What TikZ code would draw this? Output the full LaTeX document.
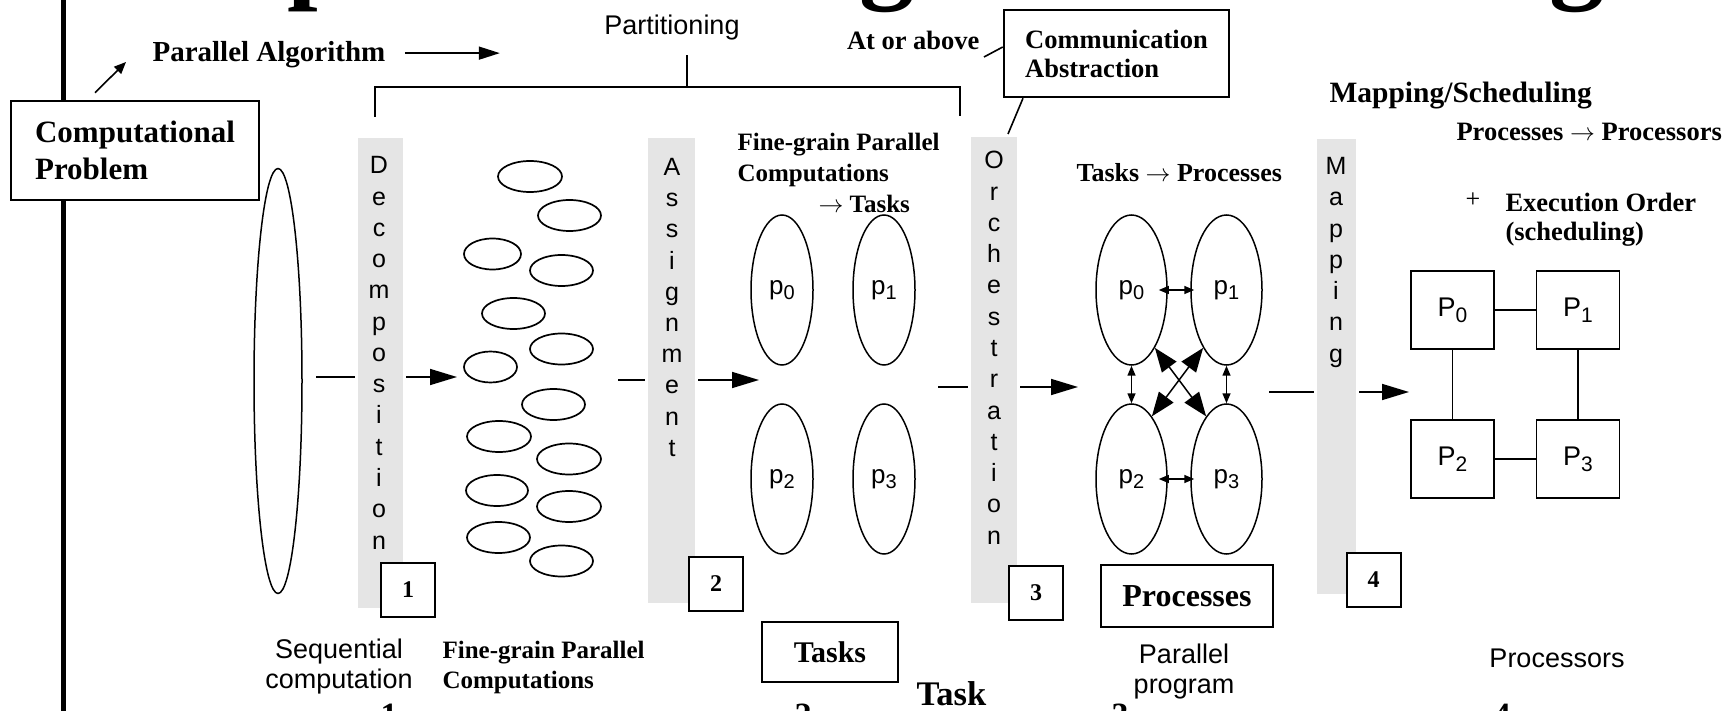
\documentclass[tikz,border=0pt]{standalone}
\usepackage{fontspec}
\setmainfont{Liberation Serif}
\setsansfont{Liberation Sans}
\usetikzlibrary{arrows.meta,shapes.geometric}
\definecolor{barfill}{gray}{0.9}
\newcommand{\fsz}[2]{\fontsize{#1}{#2}\selectfont}
\newcommand{\lowidx}[1]{\raisebox{-5pt}{\fsz{20}{20}#1}}

\begin{document}
\begin{tikzpicture}[x=1pt, y=-1pt,
    bar/.style={fill=barfill, draw=white, line width=3pt, inner sep=0pt},
    barletter/.style={anchor=base, font=\sffamily\fsz{25}{25}},
    numbox/.style={draw, fill=white, line width=2pt, minimum width=54pt, minimum height=54pt, inner sep=0pt, font=\bfseries\fsz{24}{24}},
    tbox/.style={draw, line width=2.5pt, inner sep=0pt},
    blob/.style={draw, ellipse, line width=1.7pt, inner sep=0pt, minimum height=31pt},
    task/.style={draw, ellipse, line width=1.5pt, inner sep=0pt, minimum width=62pt, minimum height=150pt, font=\sffamily\fsz{26}{26}},
    proc/.style={draw, line width=1.8pt, minimum width=83pt, minimum height=78pt, inner sep=0pt, font=\sffamily\fsz{27}{27}},
    wire/.style={line width=1.6pt},
    flow/.style={line width=1.7pt, -{Triangle[length=27pt,width=16pt]}},
    link/.style={line width=1.5pt, {Triangle[length=10pt,width=8pt]}-{Triangle[length=10pt,width=8pt]}},
    cross/.style={line width=1.5pt, {Triangle[length=24pt,width=18pt]}-{Triangle[length=24pt,width=18pt]}}]

  \useasboundingbox (0,0) rectangle (1733,711);

  % Titel (abgeschnitten)
  \node[anchor=base west, font=\bfseries\fsz{110}{110}] (tp) at (284,-11) {p};
  \node[anchor=base, font=\bfseries\fsz{110}{110}] (tg1) at (887,-11) {g};
  \node[anchor=base, font=\bfseries\fsz{110}{110}] (tg2) at (1577,-11) {g};

  % links
  \node[tbox, minimum width=248pt, minimum height=99pt, align=left, font=\bfseries\fsz{31}{37}] (cp) at (135,150.5) {Computational\\Problem};
  \coordinate (rim) at (63,0);
  \coordinate (rimb) at (63,711);
  \draw[line width=5pt] (rim) -- (rim |- cp.north);
  \draw[line width=5pt] (rim |- cp.south) -- (rimb);

  \node[anchor=base west, font=\bfseries\fsz{29}{29}] (palg) at (149,62) {Parallel Algorithm};
  \draw[line width=1.6pt, -{Triangle[length=12pt,width=10pt]}] ([xshift=-40pt,yshift=7pt]cp.north) -- ([xshift=-23pt]palg.base west);
  \draw[line width=1.6pt, -{Triangle[length=21pt,width=13pt]}] ([xshift=16pt,yshift=2pt]palg.east) -- ++(95,0);

  \node[anchor=base, font=\sffamily\fsz{27}{27}] (part) at (672,35) {Partitioning};
  \draw[wire] (375,117) |- (960,87) -- (960,116);
  \draw[wire] (687,87) -- (687,55);

  \node[anchor=base east, font=\bfseries\fsz{26.5}{26.5}] (above) at (983,50) {At or above};
  \node[tbox, minimum width=225pt, minimum height=87pt, align=left, font=\bfseries\fsz{26.5}{29}] (comm) at (1116.5,53.5) {Communication\\Abstraction};
  \draw[wire] ([xshift=1pt,yshift=-7pt]above.base east) -- ([yshift=6.5pt]comm.west);

  \node[anchor=north west, align=left, font=\bfseries\fsz{25}{31}] (fgpc) at (734,129.6) {Fine-grain Parallel\\Computations\\\hspace*{81pt}$\rightarrow$ Tasks};
  \node[anchor=base west, font=\bfseries\fsz{26}{26}] (t2p) at (1073,182) {Tasks $\rightarrow$ Processes};
  \node[anchor=base west, font=\bfseries\fsz{29.5}{29.5}] (msch) at (1326,103) {Mapping/Scheduling};
  \node[anchor=base west, font=\bfseries\fsz{26.5}{26.5}] (p2p) at (1453,141) {Processes $\rightarrow$ Processors};
  \node[anchor=base, font=\fsz{26}{26}] (plus) at (1473,208) {+};
  \node[anchor=north west, align=left, font=\bfseries\fsz{26.5}{29}] (exord) at (1502,189.7) {Execution Order\\(scheduling)};

  % Pfeile
  \coordinate (a1) at (316,377);  \coordinate (b1) at (457,377);
  \coordinate (a2) at (618,380);  \coordinate (b2) at (759,380);
  \coordinate (a3) at (938,387);  \coordinate (b3) at (1078,387);
  \coordinate (a4) at (1269,392); \coordinate (b4) at (1409,392);
  \draw[flow] (a1) -- (b1);
  \draw[flow] (a2) -- (b2);
  \draw[flow] (a3) -- (b3);
  \draw[flow] (a4) -- (b4);

  % Balken
  \node[bar, minimum width=48pt, minimum height=473pt] (dec) at (380.5,373) {};
  \node[bar, minimum width=50pt, minimum height=468pt] (asg) at (671.5,370.5) {};
  \node[bar, minimum width=49pt, minimum height=469pt] (orc) at (994,370) {};
  \node[bar, minimum width=42pt, minimum height=458pt] (map) at (1336.5,366.5) {};
  \draw[wire] ([xshift=-93.5pt]comm.south) -- ([xshift=14pt]orc.north);

  \foreach \ch [count=\i from 0] in {D,e,c,o,m,p,o,s,i,t,i,o,n}
    \node[barletter] (dec-\i) at (379,{174+31.25*\i}) {\ch};
  \foreach \ch [count=\i from 0] in {A,s,s,i,g,n,m,e,n,t}
    \node[barletter] (asg-\i) at (672,{175.5+31.2*\i}) {\ch};
  \foreach \ch [count=\i from 0] in {O,r,c,h,e,s,t,r,a,t,i,o,n}
    \node[barletter] (orc-\i) at (994,{169+31.25*\i}) {\ch};
  \foreach \ch [count=\i from 0] in {M,a,p,p,i,n,g}
    \node[barletter] (map-\i) at (1336,{174.5+31.3*\i}) {\ch};

  \node[numbox] (s1) at (408,589.5) {1};
  \node[numbox] (s2) at (716,583.5) {2};
  \node[numbox] (s3) at (1036,593) {3};
  \node[numbox] (s4) at (1373.5,579.5) {4};

  % Inhalt
  \node[draw, ellipse, line width=1.5pt, inner sep=0pt, minimum width=48pt, minimum height=425pt] (seq) at (278,381) {};

  \foreach \x/\y/\w [count=\i] in {530/176.5/64pt, 569.5/215.5/63pt, 492.5/254/57pt, 561.5/270.5/63pt,
      513.5/313.5/63pt, 561.5/349/63pt, 490.5/367/53pt, 553.5/404.5/63pt, 499/436.5/64pt,
      569/459/64pt, 497/490.5/62pt, 569/506.5/64pt, 498.5/537.5/63pt, 561.5/561/63pt}
    \node[blob, minimum width=\w] (fg\i) at (\x,\y) {};

  \foreach \n/\x/\y in {0/782/290, 1/884/290, 2/782/479, 3/884/479}
    \node[task] (t\n) at (\x,\y) {p\lowidx{\n}};

  \foreach \n/\x/\y in {0/1131.5/290, 1/1226.5/290, 2/1131.5/479, 3/1226.5/479}
    \node[task, minimum width=71pt] (q\n) at (\x,\y) {p\lowidx{\n}};
  \draw[link] ([xshift=-9pt]q0.east) -- ([xshift=4pt]q1.west);
  \draw[link] ([xshift=-9pt]q2.east) -- ([xshift=4pt]q3.west);
  \draw[link] (q0.south) -- (q2.north);
  \draw[link] (q1.south) -- (q3.north);
  \draw[cross] (q0.-68) -- (q3.108);
  \draw[cross] (q1.-112) -- (q2.72);

  \foreach \n/\x/\y in {0/1452.5/310, 1/1578/310, 2/1452.5/459, 3/1578/459}
    \node[proc] (P\n) at (\x,\y) {P\raisebox{-6pt}{\fsz{21}{21}\n}};
  \draw[wire] (P0) -- (P1);
  \draw[wire] (P2) -- (P3);
  \draw[wire] (P0) -- (P2);
  \draw[wire] (P1) -- (P3);

  % unten
  \node[anchor=north, align=center, font=\sffamily\fsz{27}{30}] (seqlbl) at (339,635.3) {Sequential\\computation};
  \node[anchor=north west, align=left, font=\bfseries\fsz{25}{30}] (fglbl) at (439,637.7) {Fine-grain Parallel\\Computations};
  \node[tbox, minimum width=136pt, minimum height=60pt, font=\bfseries\fsz{30}{30}] (tasks) at (830,652) {Tasks};
  \node[anchor=base west, font=\bfseries\fsz{34.5}{34.5}] (task) at (913,705) {Task};
  \node[tbox, minimum width=172pt, minimum height=62pt, font=\bfseries\fsz{32}{32}] (procs) at (1187,596) {Processes};
  \node[anchor=north, align=center, font=\sffamily\fsz{27}{30}] (ppl) at (1184,640.3) {Parallel\\program};
  \node[anchor=base, font=\sffamily\fsz{27}{27}] (cpus) at (1557,667) {Processors};
  \foreach \x/\d in {389/1, 803/2, 1120/3, 1502/4}
    \node[anchor=base, font=\bfseries\fsz{34}{34}] (n\d) at (\x,726) {\d};

\end{tikzpicture}
\end{document}
